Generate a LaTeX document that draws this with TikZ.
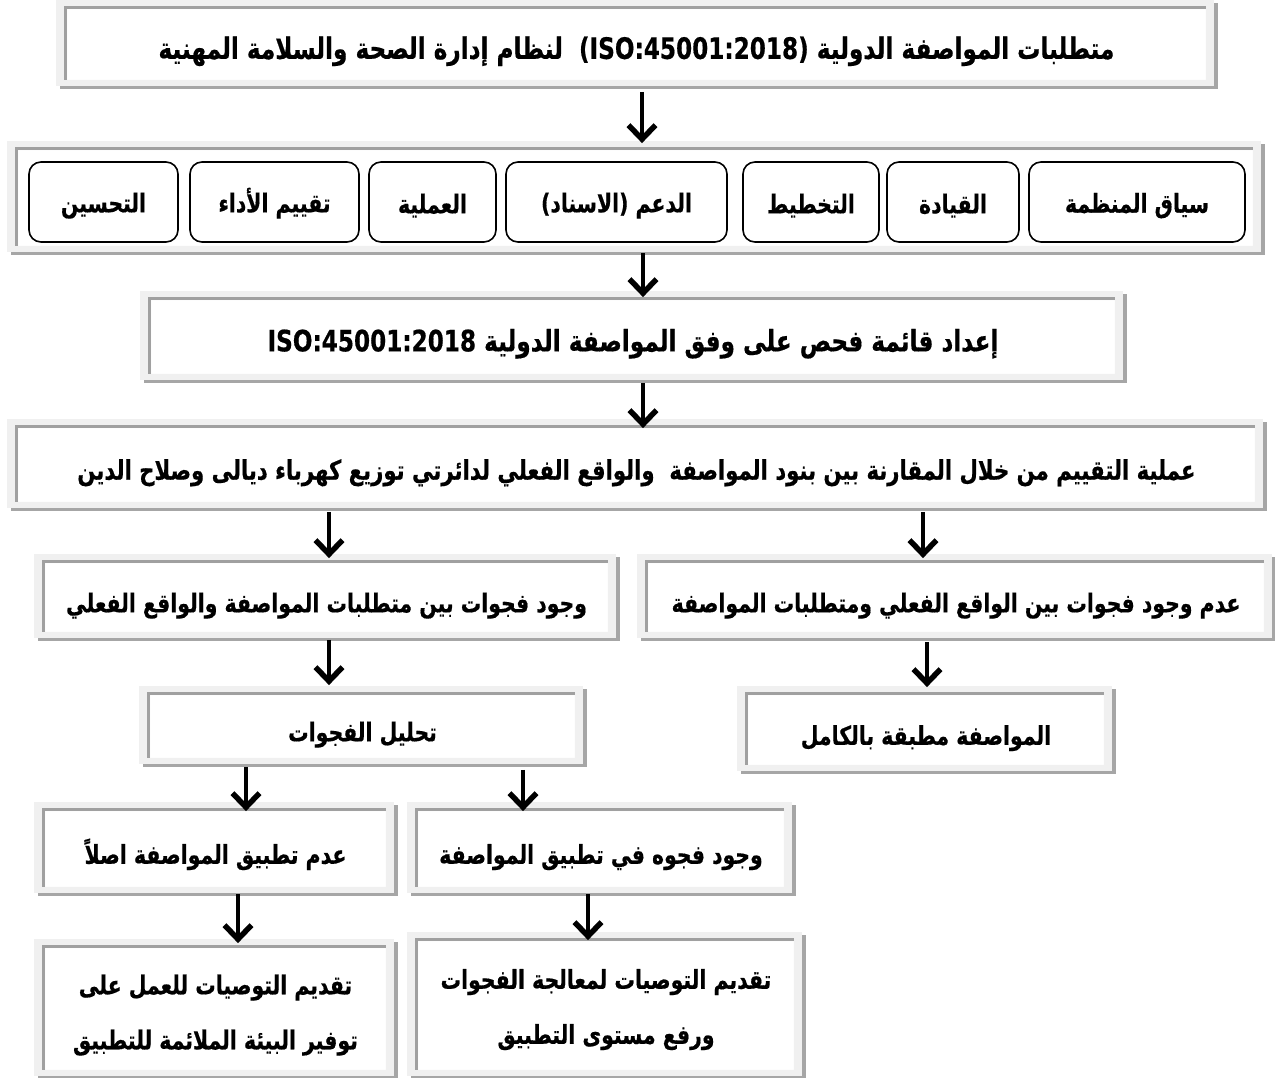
\documentclass[tikz,border=0pt]{standalone}
\usepackage{fontspec}
\usetikzlibrary{arrows.meta,calc}
\TeXXeTstate=1
\newfontfamily\arabicfont[Script=Arabic,FakeStretch=0.785,BoldFeatures={FakeBold=0.5}]{DejaVu Sans}
\definecolor{framegray}{HTML}{F0F0F0}
\definecolor{shadowgray}{HTML}{A6A6A6}
\definecolor{edgegray}{HTML}{A0A0A0}
\tikzset{
  panel/.style={fill=white, inner sep=0pt, align=center, execute at begin node={\rule{0pt}{36pt}}},
  clause/.style={draw, line width=1.6pt, rounded corners=12pt, fill=white, inner sep=0pt, minimum height=80pt, execute at begin node={\rule{0pt}{27pt}}},
  txt/.style={font=\arabicfont\bfseries\fontsize{26}{55}\selectfont},
  bigtxt/.style={font=\arabicfont\bfseries\fontsize{29.5}{55}\selectfont},
  frameshadow/.style={fill=shadowgray, even odd rule},
  framelight/.style={fill=framegray, even odd rule},
  frameedge/.style={draw=edgegray, line width=3pt},
}
\begin{document}
\begin{tikzpicture}[x=1pt,y=-1pt,->,>={Straight Barb[length=14pt,width=27pt,line width=5.5pt]},line width=3.8pt]
\useasboundingbox (0,0) rectangle (1275,1078);
% boxes
\node[panel,bigtxt,minimum width=1135pt,minimum height=67pt] (title) at (636.5,44.5) {\beginR متطلبات المواصفة الدولية \beginL(ISO:45001:2018)\endL\ \ لنظام إدارة الصحة والسلامة المهنية\endR};
\node[panel,minimum width=1231pt,minimum height=92pt] (clauses) at (635.5,198) {};
\node[clause,txt,minimum width=149pt] (improve) at (103.5,202) {\beginR التحسين\endR};
\node[clause,txt,minimum width=169pt] (perform) at (274.5,202) {\beginR تقييم الأداء\endR};
\node[clause,txt,minimum width=127pt] (operate) at (432.5,202) {\beginR العملية\endR};
\node[clause,txt,minimum width=221pt] (support) at (616.5,202) {\beginR الدعم (الاسناد)\endR};
\node[clause,txt,minimum width=136pt] (plan) at (811,202) {\beginR التخطيط\endR};
\node[clause,txt,minimum width=132pt] (lead) at (953,202) {\beginR القيادة\endR};
\node[clause,txt,minimum width=216pt] (context) at (1137,202) {\beginR سياق المنظمة\endR};
\node[panel,bigtxt,minimum width=960pt,minimum height=70pt] (checklist) at (633,337) {\beginR إعداد قائمة فحص على وفق المواصفة الدولية \beginL ISO:45001:2018\endL\endR};
\node[panel,txt,font=\arabicfont\bfseries\fontsize{27}{55}\selectfont,minimum width=1233pt,minimum height=70pt] (evaluation) at (636.5,465) {\beginR عملية التقييم من خلال المقارنة بين بنود المواصفة\ \ والواقع الفعلي لدائرتي توزيع كهرباء ديالى وصلاح الدين\endR};
\node[panel,txt,minimum width=559pt,minimum height=65pt] (gapsyes) at (326.5,597.5) {\beginR وجود فجوات بين متطلبات المواصفة والواقع الفعلي\endR};
\node[panel,txt,minimum width=612pt,minimum height=65pt] (gapsno) at (956,597.5) {\beginR عدم وجود فجوات بين الواقع الفعلي ومتطلبات المواصفة\endR};
\node[panel,txt,minimum width=421pt,minimum height=59pt] (analysis) at (362.5,726.5) {\beginR تحليل الفجوات\endR};
\node[panel,txt,minimum width=352pt,minimum height=66pt] (full) at (926,730) {\beginR المواصفة مطبقة بالكامل\endR};
\node[panel,txt,minimum width=337pt,minimum height=72pt] (absent) at (215.5,849) {\beginR عدم تطبيق المواصفة اصلاً\endR};
\node[panel,txt,minimum width=362pt,minimum height=72pt] (partial) at (601,849) {\beginR وجود فجوه في تطبيق المواصفة\endR};
\node[panel,txt,minimum width=337pt,minimum height=118pt] (recabsent) at (215.5,1009) {\rule{0pt}{32pt}\beginR تقديم التوصيات للعمل على\endR\\\beginR توفير البيئة الملائمة للتطبيق\endR};
\node[panel,txt,minimum width=372pt,minimum height=125pt] (recpartial) at (606,1005.5) {\rule{0pt}{28pt}\beginR تقديم التوصيات لمعالجة الفجوات\endR\\\beginR ورفع مستوى التطبيق\endR};
% frames round the panels
\foreach \n in {title,clauses,checklist,evaluation,gapsyes,gapsno,analysis,full,absent,partial,recabsent,recpartial}{
  \fill[frameshadow] ($(\n.north west)+(-7,-6)$) rectangle ($(\n.south east)+(12,9)$)
    ($(\n.north west)+(-11,-9)$) rectangle ($(\n.south east)+(8,6)$);
  \fill[framelight] ($(\n.north west)+(-11,-9)$) rectangle ($(\n.south east)+(8,6)$)
    (\n.north west) rectangle (\n.south east);
  \draw[frameedge,-] ($(\n.south west)+(-1.5,0)$) |- ($(\n.north east)+(0,-1.5)$);
}
% arrows
\draw[shorten <=12pt,shorten >=7pt] ([xshift=5.5pt]title.south) -- ([xshift=5.5pt]title.south |- clauses.north);
\draw[shorten <=7pt,shorten >=3pt] ([xshift=7.5pt]clauses.south) -- ([xshift=7.5pt]clauses.south |- checklist.north);
\draw[shorten <=9pt] ([xshift=10pt]checklist.south) -- ([xshift=10pt]checklist.south |- evaluation.north);
\draw[shorten <=10pt,shorten >=5pt] ([xshift=-307.5pt]evaluation.south) -- ([xshift=-307.5pt]evaluation.south |- gapsyes.north);
\draw[shorten <=10pt,shorten >=5pt] ([xshift=286.5pt]evaluation.south) -- ([xshift=286.5pt]evaluation.south |- gapsno.north);
\draw[shorten <=8pt,shorten >=10pt] ([xshift=2.5pt]gapsyes.south) -- ([xshift=2.5pt]gapsyes.south |- analysis.north);
\draw[shorten <=10pt,shorten >=8pt] ([xshift=-29pt]gapsno.south) -- ([xshift=-29pt]gapsno.south |- full.north);
\draw[shorten <=9pt] ([xshift=-116.5pt]analysis.south) -- ([xshift=-116.5pt]analysis.south |- absent.north);
\draw[shorten <=12pt] ([xshift=160.5pt]analysis.south) -- ([xshift=160.5pt]analysis.south |- partial.north);
\draw[shorten <=7pt,shorten >=5pt] ([xshift=22.5pt]absent.south) -- ([xshift=22.5pt]absent.south |- recabsent.north);
\draw[shorten <=7pt,shorten >=1pt] ([xshift=-13pt]partial.south) -- ([xshift=-13pt]partial.south |- recpartial.north);
\end{tikzpicture}
\end{document}
